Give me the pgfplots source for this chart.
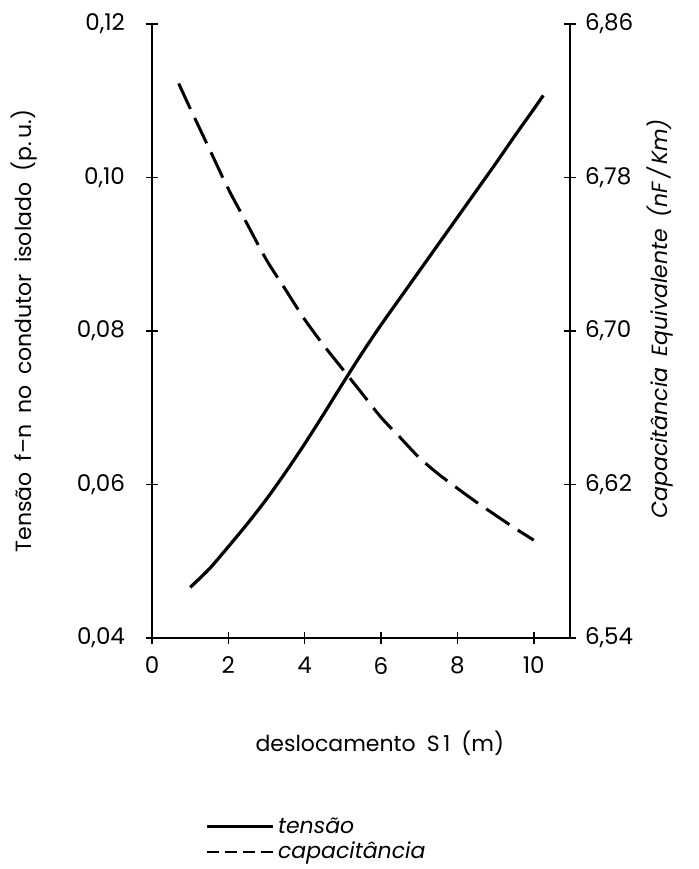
\documentclass[border=0pt]{standalone}
\usepackage{fontspec}
\setmainfont{Poppins}
\usepackage{pgfplots}
\usepackage{pgfplotstable}
\pgfplotsset{compat=1.18}

% tensao f-n (p.u.) x deslocamento S1 (m)
\pgfplotstableread{
x y
1.0 0.0466
1.5 0.0490
2.0 0.0519
2.5 0.0549
3.0 0.0581
3.5 0.0616
4.0 0.0653
4.5 0.0692
5.0 0.0732
5.5 0.0771
6.0 0.0808
6.5 0.0843
7.0 0.0878
7.5 0.0913
8.0 0.0948
8.5 0.0983
9.0 0.1018
9.5 0.1054
10.0 0.1089
10.25 0.1107
}\tensao

% capacitancia equivalente (nF/Km)
\pgfplotstableread{
x y
0.7 6.829
1.0 6.816
1.5 6.795
2.0 6.774
2.5 6.7555
3.0 6.737
3.5 6.7215
4.0 6.706
4.5 6.6925
5.0 6.680
5.5 6.6675
6.0 6.655
6.5 6.6445
7.0 6.634
7.5 6.6255
8.0 6.618
8.5 6.6108
9.0 6.604
9.5 6.5973
10.0 6.591
}\capac

\pgfplotsset{
  base/.style={
    scale only axis,
    width=209pt, height=307pt,
    at={(76pt,115.5pt)}, anchor=south west,
    xmin=0, xmax=10.95,
    tick align=center,
    major tick length=6pt,
    every tick/.style={black, line width=0.8pt},
    axis line style={line width=1pt},
    ticklabel style={font=\fontsize{11.5}{13}\selectfont},
    /pgf/number format/assume math mode=true,
    /pgf/number format/.cd, use comma, fixed, fixed zerofill, precision=2,
  },
}

\begin{document}
\begin{tikzpicture}
\path[use as bounding box] (0,0) rectangle (349pt,434.5pt);

\begin{axis}[
  base,
  axis x line*=bottom,
  axis y line*=left,
  ymin=0.04, ymax=0.12,
  ytick={0.04,0.06,0.08,0.10,0.12},
  xtick={0,2,4,6,8,10},
  xticklabel style={/pgf/number format/precision=0, /pgf/number format/fixed zerofill=false},
  yticklabel style={xshift=-7pt},
  xticklabel style={yshift=-3pt},
  ylabel={Tensão\enspace f--n\enspace no\enspace condutor\enspace isolado\enspace (p.\,u.)},
  ylabel style={at={(axis description cs:-0.305,0.5)}, anchor=center, font=\fontsize{11}{13}\selectfont},
  xlabel={deslocamento\enspace S\,1\enspace(m)},
  xlabel style={at={(axis description cs:0.545,-0.171)}, anchor=center, font=\fontsize{11}{13}\selectfont},
]
\addplot[black, line width=1.6pt, smooth] table[x=x, y=y] {\tensao};
\end{axis}

\begin{axis}[
  base,
  axis x line=none,
  axis y line*=right,
  ymin=6.54, ymax=6.86,
  ytick={6.54,6.62,6.70,6.78,6.86},
  yticklabel style={xshift=1pt},
  ylabel={\itshape Capacitância\enspace Equivalente\enspace (nF\,/\,Km)},
  ylabel style={at={(axis description cs:1.215,0.52)}, anchor=center, rotate=0, font=\fontsize{11}{13}\selectfont},
  legend style={draw=none, fill=none, at={(axis description cs:0.127,-0.285)}, anchor=north west,
    font=\fontsize{11}{11}\itshape\selectfont, row sep=-1pt, inner sep=0pt,
    /tikz/every even column/.append style={column sep=2pt}},
  legend cell align=left,
]
\addlegendimage{legend image code/.code={\draw[black, line width=1.3pt] (0pt,0pt) -- (33pt,0pt);}}
\addlegendentry{tensão}
\addplot[black, line width=1.5pt, dash pattern=on 14pt off 5pt, smooth,
  legend image code/.code={\draw[black, line width=1.1pt, dash pattern=on 6pt off 3pt] (0pt,0pt) -- (33pt,0pt);}]
  table[x=x, y=y] {\capac};
\addlegendentry{capacitância}
\end{axis}
\end{tikzpicture}
\end{document}
